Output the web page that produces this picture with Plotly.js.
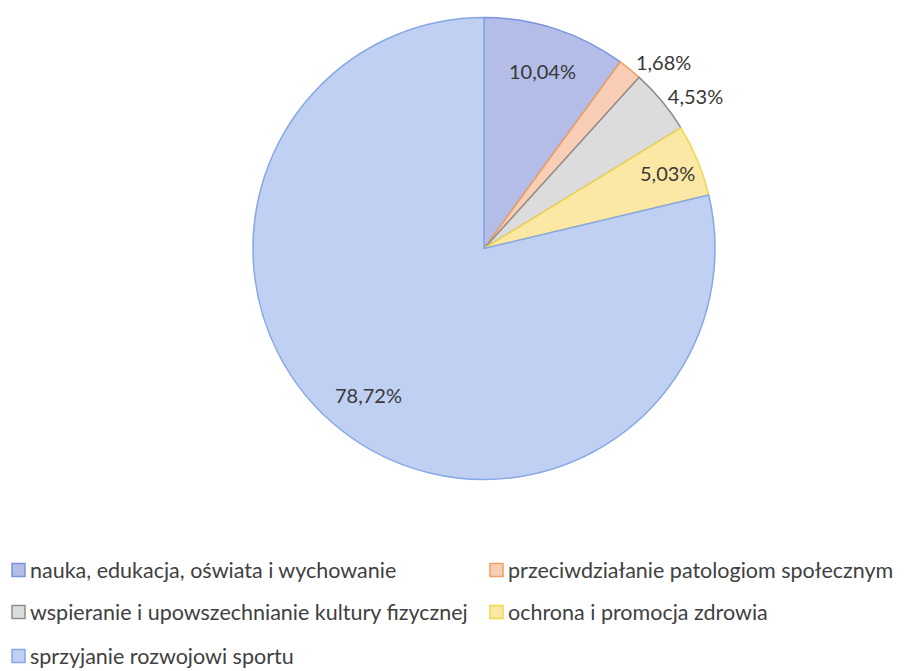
<!DOCTYPE html>
<html>
<head>
<meta charset="utf-8">
<script src="https://cdn.plot.ly/plotly-3.0.1.min.js"></script>
<style>html,body{margin:0;padding:0;background:#fff;}#chart{width:907px;height:671px;}</style>
</head>
<body>
<div id="chart"></div>
<script>
const categories = [
  "nauka, edukacja, oświata i wychowanie",
  "przeciwdziałanie patologiom społecznym",
  "wspieranie i upowszechnianie kultury fizycznej",
  "ochrona i promocja zdrowia",
  "sprzyjanie rozwojowi sportu"
];
const values = [10.04, 1.68, 4.53, 5.03, 78.72];
const labelText = ["10,04%", "1,68%", "4,53%", "5,03%", "78,72%"];
const fillColors = ["#b3bde8", "#f8cfb6", "#dcdcdc", "#fbe8a4", "#bfd0f2"];
const lineColors = ["#7b95dc", "#f0a060", "#8e8e8e", "#f2d64e", "#86a8e4"];
const textPos = ["none", "outside", "outside", "none", "none"];
// inside labels placed on the slice bisector at these radius fractions (style)
const insideR = [0.81, null, null, 0.86, 0.81];

const W = 907, H = 671;
const px0 = 253, px1 = 715, py0 = 17, py1 = 480;
const FONT = "Lato, 'Open Sans', sans-serif";
const pie = {
  type: "pie",
  values: values,
  labels: categories,
  text: labelText,
  textinfo: "text",
  textposition: textPos,
  sort: false,
  direction: "clockwise",
  rotation: 0,
  automargin: false,
  showlegend: false,
  hoverinfo: "label+text",
  marker: { colors: fillColors, line: { color: lineColors, width: 1.5 } },
  textfont: { family: FONT, size: 20, color: "#383838" },
  domain: { x: [px0 / W, px1 / W], y: [1 - py1 / H, 1 - py0 / H] }
};

const shapes = [], annotations = [];
// inside labels from data-derived bisector angles
const total = values.reduce((a, b) => a + b, 0);
const cx = (px0 + px1) / 2, cy = (py0 + py1) / 2, R = Math.min(px1 - px0, py1 - py0) / 2;
let cum = 0;
values.forEach((v, i) => {
  const mid = (cum + v / 2) / total * 2 * Math.PI;
  cum += v;
  if (insideR[i] == null) return;
  const x = cx + Math.sin(mid) * R * insideR[i];
  const y = cy - Math.cos(mid) * R * insideR[i];
  annotations.push({
    text: labelText[i], xref: "paper", yref: "paper",
    x: x / W, y: 1 - y / H, xanchor: "center", yanchor: "middle",
    showarrow: false, font: { family: FONT, size: 20, color: "#383838" }
  });
});

// legend drawn as shapes + annotations
const legendPos = [
  { x: 12, y: 570 }, { x: 490, y: 570 },
  { x: 12, y: 612 }, { x: 490, y: 612 },
  { x: 12, y: 656 }
];
categories.forEach((c, i) => {
  const p = legendPos[i];
  shapes.push({
    type: "rect", xref: "paper", yref: "paper",
    x0: p.x / W, x1: (p.x + 13) / W,
    y0: 1 - (p.y + 6.5) / H, y1: 1 - (p.y - 6.5) / H,
    fillcolor: fillColors[i], line: { color: lineColors[i], width: 1.5 }
  });
  annotations.push({
    text: c, xref: "paper", yref: "paper",
    x: (p.x + 16) / W, y: 1 - p.y / H,
    xanchor: "left", yanchor: "middle", showarrow: false,
    font: { family: FONT, size: 21.5, color: "#404040" }
  });
});

const layout = {
  width: W, height: H,
  margin: { l: 0, r: 0, t: 0, b: 0 },
  paper_bgcolor: "#ffffff",
  separators: ", ",
  showlegend: false,
  shapes: shapes,
  annotations: annotations
};
Plotly.newPlot("chart", [pie], layout, { displayModeBar: false, staticPlot: true });
</script>
</body>
</html>
